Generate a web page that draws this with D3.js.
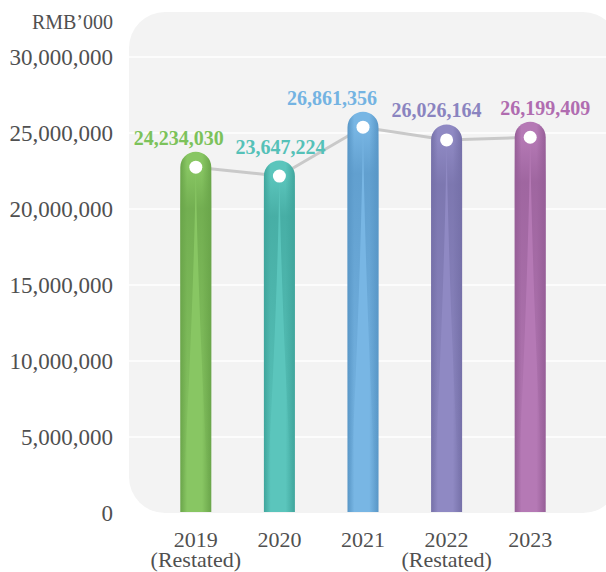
<!DOCTYPE html>
<html>
<head>
<meta charset="utf-8">
<script src="https://cdn.jsdelivr.net/npm/d3@7"></script>
<style>
  body { margin: 0; background: #fff; }
  svg { display: block; font-family: "Liberation Serif", "Times New Roman", serif; }
</style>
</head>
<body>
<svg id="chart"></svg>
<script>
// Data
const years = ['2019', '2020', '2021', '2022', '2023'];
const subLabels = ['(Restated)', '', '', '(Restated)', ''];
const values = [24234030, 23647224, 26861356, 26026164, 26199409];
const yTicks = [0, 5000000, 10000000, 15000000, 20000000, 25000000, 30000000];
const unitLabel = 'RMB\u2019000';

// Colours per year
const barColors = ['#88c663', '#5bc5bc', '#78b6e4', '#8f89c3', '#b579b5'];
const edgeColors = ['#6aa54a', '#3fa59c', '#5896c6', '#7570a8', '#965e97'];
const labelColors = ['#7cc25a', '#55c1b8', '#74b3e2', '#8a84c0', '#b06cb0'];

// Layout
const width = 606;
const height = 572;
const barWidth = 31;
const capDrop = 7;          // bar cap sits a little below the value line
const labelNudge = [-17, 1, -31, -10, 15];

const svg = d3.select('#chart')
    .attr('width', width)
    .attr('height', height);

const defs = svg.append('defs');

const x = d3.scalePoint()
    .domain(years)
    .range([154, 572])
    .padding(0.5);

const y = d3.scaleLinear()
    .domain([0, 30000000])
    .range([513, 57]);

const fmt = d3.format(',');

// Background panel
svg.append('rect')
    .attr('x', 129)
    .attr('y', 12)
    .attr('width', 490)
    .attr('height', 501)
    .attr('rx', 36)
    .attr('fill', '#f3f3f3');

// Gridlines
svg.append('g')
    .selectAll('line')
    .data(yTicks.filter(d => d > 0))
    .join('line')
    .attr('x1', 129)
    .attr('x2', width)
    .attr('y1', d => y(d))
    .attr('y2', d => y(d))
    .attr('stroke', '#ffffff')
    .attr('stroke-width', 1.6);

// Y axis labels
svg.append('g')
    .selectAll('text')
    .data(yTicks)
    .join('text')
    .attr('x', 113)
    .attr('y', d => y(d) + 8)
    .attr('text-anchor', 'end')
    .attr('font-size', 23)
    .attr('fill', '#505050')
    .text(d => fmt(d));

svg.append('text')
    .attr('x', 113)
    .attr('y', 29)
    .attr('text-anchor', 'end')
    .attr('font-size', 20)
    .attr('fill', '#505050')
    .text(unitLabel);

// Gradients for bar shading
years.forEach((yr, i) => {
    const g = defs.append('linearGradient')
        .attr('id', 'bar-' + i)
        .attr('x1', '0%').attr('x2', '100%')
        .attr('y1', '0%').attr('y2', '0%');
    g.append('stop').attr('offset', '0%').attr('stop-color', edgeColors[i]);
    g.append('stop').attr('offset', '22%').attr('stop-color', barColors[i]);
    g.append('stop').attr('offset', '70%').attr('stop-color', barColors[i]);
    g.append('stop').attr('offset', '100%').attr('stop-color', edgeColors[i]);

    const v = defs.append('linearGradient')
        .attr('id', 'shade-' + i)
        .attr('x1', '0%').attr('x2', '0%')
        .attr('y1', '0%').attr('y2', '100%');
    v.append('stop').attr('offset', '0%').attr('stop-color', edgeColors[i]).attr('stop-opacity', 0);
    v.append('stop').attr('offset', '12%').attr('stop-color', edgeColors[i]).attr('stop-opacity', 0.7);
    v.append('stop').attr('offset', '55%').attr('stop-color', edgeColors[i]).attr('stop-opacity', 0.35);
    v.append('stop').attr('offset', '100%').attr('stop-color', edgeColors[i]).attr('stop-opacity', 0);
});

const data = years.map((yr, i) => ({
    year: yr,
    sub: subLabels[i],
    value: values[i],
    i: i
}));

const barTop = d => y(d.value) + capDrop;
const dotY = d => barTop(d) + barWidth / 2;

// Connecting line (behind bars)
svg.append('path')
    .datum(data)
    .attr('fill', 'none')
    .attr('stroke', '#c9c9c9')
    .attr('stroke-width', 3)
    .attr('d', d3.line().x(d => x(d.year)).y(d => dotY(d)));

// Bars with rounded caps
function barPath(d) {
    const cx = x(d.year);
    const r = barWidth / 2;
    const t = barTop(d) + r;
    const b = y(0) - 1;
    return `M${cx - r},${b} L${cx - r},${t} A${r},${r} 0 0 1 ${cx + r},${t} L${cx + r},${b} Z`;
}

const bars = svg.append('g')
    .selectAll('g')
    .data(data)
    .join('g');

bars.append('path')
    .attr('d', barPath)
    .attr('fill', d => `url(#bar-${d.i})`);

// Darker tapered shading in the middle of the bar
bars.append('path')
    .attr('d', d => {
        const cx = x(d.year);
        const r = barWidth / 2;
        const t = barTop(d) + r;
        const b = y(0) - 1;
        return `M${cx - r},${t} L${cx + r},${t} L${cx + r},${b} L${cx + r - 2},${b} ` +
               `Q${cx + 2},${t + (b - t) * 0.4} ${cx},${t} ` +
               `Q${cx - 2},${t + (b - t) * 0.4} ${cx - r + 2},${b} L${cx - r},${b} Z`;
    })
    .attr('fill', d => `url(#shade-${d.i})`);

// White dots
bars.append('circle')
    .attr('cx', d => x(d.year))
    .attr('cy', d => dotY(d))
    .attr('r', 6.5)
    .attr('fill', '#ffffff');

// Value labels
bars.append('text')
    .attr('x', d => x(d.year) + labelNudge[d.i])
    .attr('y', d => barTop(d) - 7)
    .attr('text-anchor', 'middle')
    .attr('font-size', 20)
    .attr('font-weight', 'bold')
    .attr('fill', d => labelColors[d.i])
    .text(d => fmt(d.value));

// X axis labels
const xl = svg.append('g')
    .selectAll('text')
    .data(data)
    .join('text')
    .attr('x', d => x(d.year))
    .attr('y', 547)
    .attr('text-anchor', 'middle')
    .attr('font-size', 22)
    .attr('fill', '#505050');

xl.append('tspan').text(d => d.year);
xl.append('tspan')
    .attr('x', d => x(d.year))
    .attr('dy', 20)
    .text(d => d.sub);
</script>
</body>
</html>
